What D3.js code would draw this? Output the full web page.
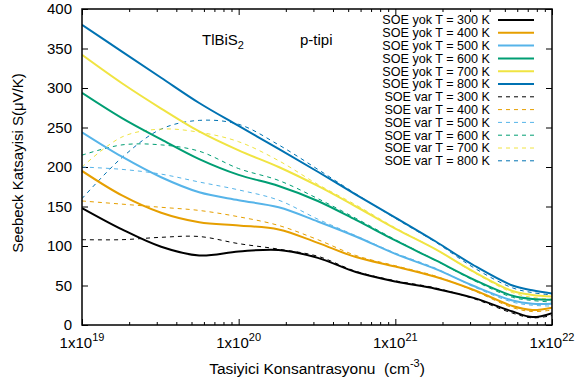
<!DOCTYPE html>
<html>
<head>
<meta charset="utf-8">
<script src="https://cdn.jsdelivr.net/npm/d3@7"></script>
<style>
  body { margin: 0; background: #fff; }
  text { font-family: "Liberation Sans", Arial, sans-serif; fill: #000; }
</style>
</head>
<body>
<div id="chart"></div>
<script>

var conc = [1e19, 1.8e19, 3.2e19, 5.6e19, 1e20, 1.8e20, 3.2e20, 5.6e20, 1e21, 1.8e21, 3.2e21, 5.6e21, 7.5e21, 1e22];

// SOE yok (solid)
var yok300 = [148, 121, 99, 88, 93, 95, 85, 67, 55, 46, 34, 17, 10, 15];
var yok400 = [195, 164, 142, 130, 126, 121, 104, 86, 74, 61, 44, 24, 19, 22];
var yok500 = [244, 213, 187, 168, 158, 149, 131, 112, 90, 71, 49, 31, 27, 27];
var yok600 = [294, 262, 235, 210, 190, 176, 157, 133, 107, 82, 57, 37, 33, 32];
var yok700 = [342, 306, 274, 245, 221, 200, 176, 150, 122, 96, 67, 43, 38, 36];
var yok800 = [380, 346, 313, 281, 252, 223, 194, 165, 136, 106, 75, 50, 44, 40];

// SOE var (dashed)
var var300 = [108, 108, 111, 112, 103, 96, 87, 68, 56, 47, 33, 15, 9, 12];
var var400 = [157, 153, 149, 145, 137, 126, 108, 88, 75, 62, 43, 22, 17, 19];
var var500 = [200, 197, 191, 181, 171, 158, 134, 113, 91, 72, 48, 29, 25, 24];
var var600 = [215, 228, 228, 220, 198, 183, 160, 135, 108, 82, 56, 35, 31, 29];
var var700 = [200, 238, 248, 244, 232, 208, 178, 152, 123, 96, 66, 41, 35, 33];
var var800 = [160, 212, 248, 259, 254, 228, 197, 166, 135, 105, 72, 47, 41, 38];

var temps = [300, 400, 500, 600, 700, 800];
var colors = ["#000000", "#e69f00", "#56b4e9", "#009e73", "#f0e442", "#0072b2"];
var yTicks = [0, 50, 100, 150, 200, 250, 300, 350, 400];
var xMajor = [1e19, 1e20, 1e21, 1e22];
var xLabels = ["19", "20", "21", "22"];

var series = [];
[yok300, yok400, yok500, yok600, yok700, yok800].forEach(function(v, i) {
    series.push({label: "SOE yok T = " + temps[i] + " K", values: v, color: colors[i], dashed: false});
});
[var300, var400, var500, var600, var700, var800].forEach(function(v, i) {
    series.push({label: "SOE var T = " + temps[i] + " K", values: v, color: colors[i], dashed: true});
});

var W = 580, H = 387;
var margin = {top: 9, right: 28, bottom: 62, left: 82};
var width = W - margin.left - margin.right,
    height = H - margin.top - margin.bottom;

var svg = d3.select("#chart").append("svg")
    .attr("width", W)
    .attr("height", H);

var g = svg.append("g")
    .attr("transform", "translate(" + margin.left + "," + margin.top + ")");

var x = d3.scaleLog().domain([1e19, 1e22]).range([0, width]);
var y = d3.scaleLinear().domain([0, 400]).range([height, 0]);

// axes (ticks point inward, mirrored on top/right)
var minor = x.ticks().filter(function(d) { return xMajor.indexOf(d) < 0; });

function clean(sel) { sel.select(".domain").remove(); sel.selectAll("line").attr("stroke", "#000"); }

g.append("g").attr("transform", "translate(0," + height + ")")
    .call(d3.axisBottom(x).tickValues(minor).tickSize(-3).tickFormat(""))
    .call(clean);
g.append("g").attr("transform", "translate(0," + height + ")")
    .call(d3.axisBottom(x).tickValues(xMajor).tickSize(-6).tickFormat(""))
    .call(clean);
g.append("g")
    .call(d3.axisTop(x).tickValues(minor).tickSize(-3).tickFormat(""))
    .call(clean);
g.append("g")
    .call(d3.axisTop(x).tickValues(xMajor).tickSize(-6).tickFormat(""))
    .call(clean);

var yAxis = g.append("g")
    .call(d3.axisLeft(y).tickValues(yTicks).tickSize(-6).tickPadding(10))
    .call(clean);
yAxis.selectAll("text")
    .style("font-size", "15px")
    .style("font-family", "'Liberation Sans', Arial, sans-serif")
    .attr("fill", "#000");

g.append("g").attr("transform", "translate(" + width + ",0)")
    .call(d3.axisRight(y).tickValues(yTicks).tickSize(-6).tickFormat(""))
    .call(clean);

// x tick labels 1x10^n
var xl = g.append("g").selectAll("text")
    .data(xMajor)
    .enter().append("text")
    .attr("x", function(d) { return x(d); })
    .attr("y", height + 23)
    .attr("text-anchor", "middle")
    .style("font-size", "15px");
xl.append("tspan").text("1x10");
xl.append("tspan")
    .attr("dy", -7)
    .style("font-size", "11px")
    .text(function(d, i) { return xLabels[i]; });

// curves
var line = d3.line()
    .x(function(d) { return x(d[0]); })
    .y(function(d) { return y(d[1]); })
    .curve(d3.curveCatmullRom.alpha(0.5));

g.append("clipPath").attr("id", "clip")
    .append("rect").attr("width", width).attr("height", height);

var curves = g.append("g").attr("clip-path", "url(#clip)");

// dashed first, then solid on top
series.slice().reverse().forEach(function(s) {
    curves.append("path")
        .datum(conc.map(function(c, i) { return [c, s.values[i]]; }))
        .attr("d", line)
        .attr("fill", "none")
        .attr("stroke", s.color)
        .attr("stroke-width", s.dashed ? 1 : 2)
        .attr("stroke-dasharray", s.dashed ? "4,4" : null);
});

// frame
g.append("rect")
    .attr("width", width)
    .attr("height", height)
    .attr("fill", "none")
    .attr("stroke", "#000")
    .attr("stroke-width", 1.5);

// legend
var legend = g.append("g").attr("transform", "translate(" + (490 - margin.left) + "," + (20 - margin.top) + ")");
series.forEach(function(s, i) {
    var row = legend.append("g").attr("transform", "translate(0," + (i * 12.8) + ")");
    row.append("text")
        .attr("x", 0)
        .attr("y", 0)
        .attr("dy", "0.35em")
        .attr("text-anchor", "end")
        .style("font-size", "12.6px")
        .text(s.label);
    row.append("line")
        .attr("x1", 8).attr("x2", 44)
        .attr("y1", 0).attr("y2", 0)
        .attr("stroke", s.color)
        .attr("stroke-width", s.dashed ? 1 : 2)
        .attr("stroke-dasharray", s.dashed ? "4,4" : null);
});

// annotations
var t1 = svg.append("text").attr("x", 202).attr("y", 45).style("font-size", "15px");
t1.append("tspan").text("TlBiS");
t1.append("tspan").attr("dy", 4).style("font-size", "11px").text("2");
svg.append("text").attr("x", 300).attr("y", 45).style("font-size", "15px").text("p-tipi");

// axis titles
svg.append("text")
    .attr("transform", "translate(23," + 163 + ") rotate(-90)")
    .attr("text-anchor", "middle")
    .style("font-size", "15px")
    .text("Seebeck Katsayisi S(\u03bcV/K)");

var xt = svg.append("text")
    .attr("x", 317)
    .attr("y", 374)
    .attr("text-anchor", "middle")
    .style("font-size", "15.5px");
xt.append("tspan").text("Tasiyici Konsantrasyonu\u00a0\u00a0(cm");
xt.append("tspan").attr("dy", -7).style("font-size", "11px").text("-3");
xt.append("tspan").attr("dy", 7).text(")");

</script>
</body>
</html>
